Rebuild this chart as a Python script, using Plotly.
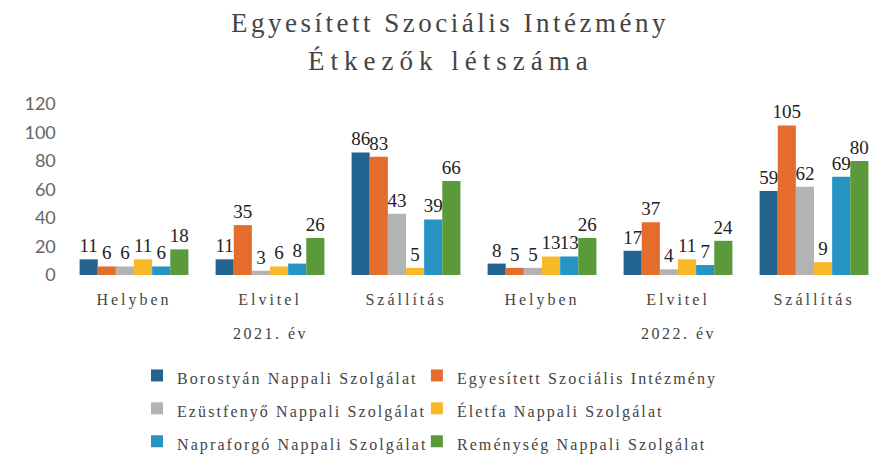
import plotly.graph_objects as go

years = ["2021. év", "2022. év"]
categories = ["Helyben", "Elvitel", "Szállítás"]

series_names = [
    "Borostyán Nappali Szolgálat",
    "Egyesített Szociális Intézmény",
    "Ezüstfenyő Nappali Szolgálat",
    "Életfa Nappali Szolgálat",
    "Napraforgó Nappali Szolgálat",
    "Reménység Nappali Szolgálat",
]
borostyan = [11, 11, 86, 8, 17, 59]
egyesitett = [6, 35, 83, 5, 37, 105]
ezustfenyo = [6, 3, 43, 5, 4, 62]
eletfa = [11, 6, 5, 13, 11, 9]
napraforgo = [6, 8, 39, 13, 7, 69]
remenyseg = [18, 26, 66, 26, 24, 80]
series_values = [borostyan, egyesitett, ezustfenyo, eletfa, napraforgo, remenyseg]
colors = ["#22638F", "#E46C2D", "#B3B3B3", "#F7B928", "#2795C4", "#5A9A3B"]
legend_ids = ["legend", "legend2"] * 3

serif = "Liberation Serif, Times New Roman, serif"
sans = "Lato, Open Sans, sans-serif"


def spaced(t, ls=2, size=None):
    st = f"letter-spacing:{ls}px"
    if size:
        st += f";font-size:{size}px"
    return f"<span style='{st}'>{t}</span>"


x_keys = [f"{y} {c}" for y in years for c in categories]
x_text = [spaced(c, 3) for y in years for c in categories]

fig = go.Figure()
for name, vals, col, lg in zip(series_names, series_values, colors, legend_ids):
    fig.add_trace(go.Bar(
        name=spaced(name, 2.1, 16), x=x_keys, y=vals, legend=lg,
        marker=dict(color=col, line=dict(width=0)),
        text=vals, textposition="outside", cliponaxis=False,
        constraintext="none",
        textfont=dict(family=serif, size=19, color="#222"),
    ))

annotations = [
    dict(text=spaced("Egyesített Szociális Intézmény", 3.5), xref="paper", yref="paper",
         x=0.47, y=1.472, xanchor="center", yanchor="middle", showarrow=False,
         font=dict(family=serif, size=27, color="#444")),
    dict(text=spaced("Étkezők létszáma", 6), xref="paper", yref="paper",
         x=0.472, y=1.252, xanchor="center", yanchor="middle", showarrow=False,
         font=dict(family=serif, size=27, color="#444")),
]
for y in years:
    annotations.append(dict(
        text=spaced(y, 2.5), xref="x", yref="paper", x=f"{y} Elvitel", y=-0.34,
        xanchor="center", yanchor="middle", showarrow=False,
        font=dict(family=serif, size=16, color="#444")))

legend_common = dict(orientation="v", yanchor="top", xanchor="left",
                     font=dict(family=serif, size=23, color="#444"),
                     itemwidth=30, bgcolor="rgba(0,0,0,0)")

fig.update_layout(
    width=881, height=446,
    paper_bgcolor="white", plot_bgcolor="white",
    barmode="group", bargap=0.2, bargroupgap=0,
    margin=dict(l=58, r=7, t=96, b=179, autoexpand=False),
    font=dict(family=serif, size=15, color="#444"),
    xaxis=dict(type="category", tickvals=x_keys, ticktext=x_text,
               showline=False, ticks="", automargin=False, ticklabelstandoff=13,
               tickfont=dict(family=serif, size=16, color="#444")),
    yaxis=dict(range=[0, 120], dtick=20, showgrid=False, zeroline=False,
               showline=False, ticks="", automargin=False,
               ticksuffix="\u00a0\u00a0",
               tickfont=dict(family=sans, size=18, color="#666")),
    legend=dict(x=0.087, y=-0.462, **legend_common),
    legend2=dict(x=0.43, y=-0.462, **legend_common),
    annotations=annotations,
    showlegend=True,
)

fig.write_html("out.html")
